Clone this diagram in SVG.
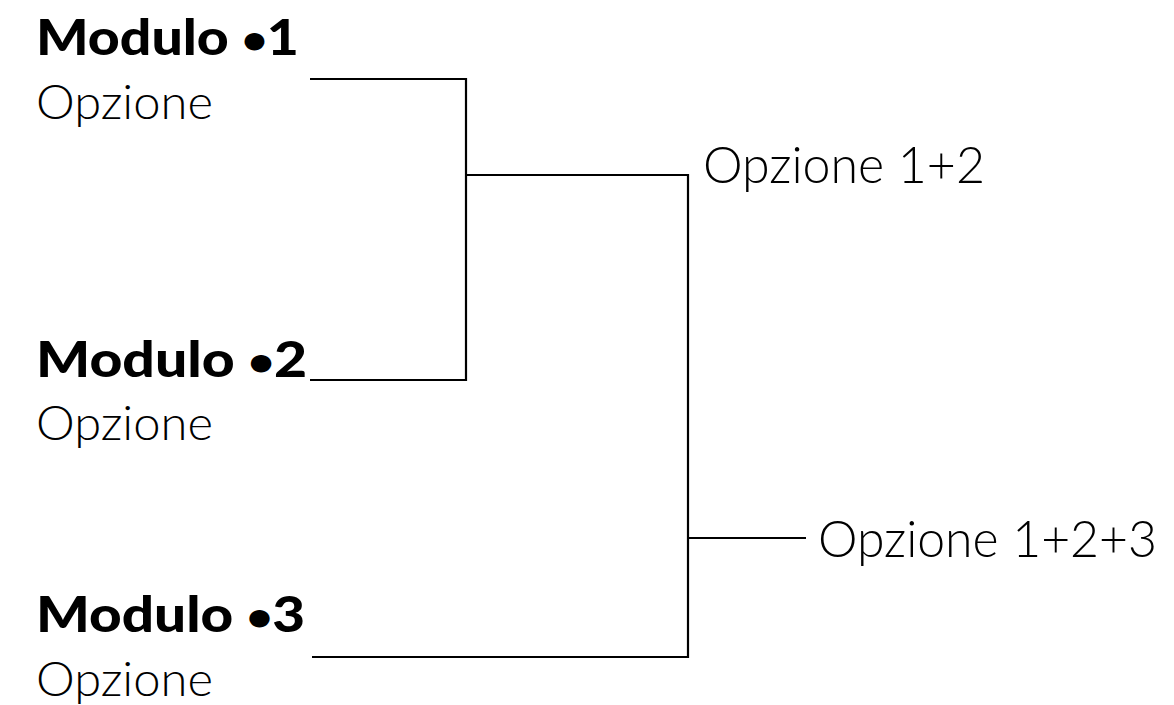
<svg xmlns="http://www.w3.org/2000/svg" width="1174" height="705" viewBox="0 0 1174 705">
<style>
.t{font-family:Lato,"Open Sans","Liberation Sans",sans-serif;fill:#000}
.b{font-weight:900;font-size:49px}
.l{font-weight:300;font-size:47px}
.r{font-size:51px}
.d{font-size:38px}
.c{fill:none;stroke:#000;stroke-width:2.2}
</style>
<rect width="1174" height="705" fill="#fff"/>
<g id="connectors">
<path class="c" d="M310 79H466V380H310"/>
<path class="c" d="M466 175H688V657H312"/>
<path class="c" d="M688 538H806"/>
</g>
<g id="modulo1">
<text class="t b" x="36" y="55" textLength="263" lengthAdjust="spacingAndGlyphs">Modulo <tspan class="d" dy="-2">•</tspan><tspan dy="2">1</tspan></text>
<text class="t l" x="36" y="119" textLength="177" lengthAdjust="spacingAndGlyphs">Opzione</text>
</g>
<g id="modulo2">
<text class="t b" x="36" y="377" textLength="271" lengthAdjust="spacingAndGlyphs">Modulo <tspan class="d" dy="-2">•</tspan><tspan dy="2">2</tspan></text>
<text class="t l" x="36" y="440" textLength="177" lengthAdjust="spacingAndGlyphs">Opzione</text>
</g>
<g id="modulo3">
<text class="t b" x="36" y="632" textLength="269" lengthAdjust="spacingAndGlyphs">Modulo <tspan class="d" dy="-2">•</tspan><tspan dy="2">3</tspan></text>
<text class="t l" x="36" y="696" textLength="177" lengthAdjust="spacingAndGlyphs">Opzione</text>
</g>
<g id="opzione12">
<text class="t l r" x="703" y="183" textLength="282" lengthAdjust="spacingAndGlyphs">Opzione 1+2</text>
</g>
<g id="opzione123">
<text class="t l r" x="818" y="557" textLength="339" lengthAdjust="spacingAndGlyphs">Opzione 1+2+3</text>
</g>
</svg>
